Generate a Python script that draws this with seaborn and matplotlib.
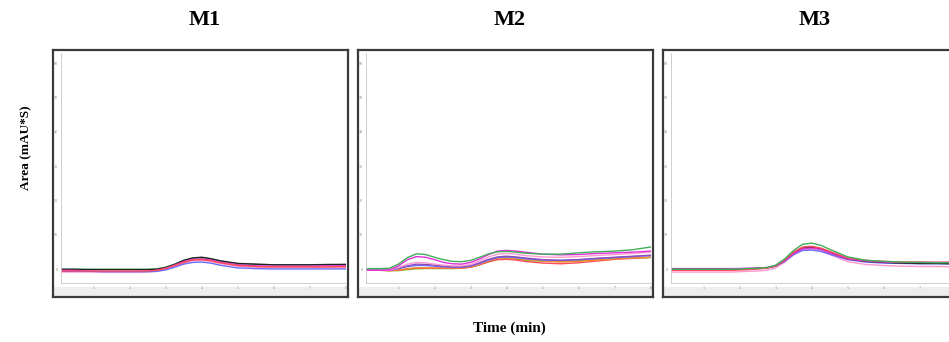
import pandas as pd
import numpy as np
import matplotlib.pyplot as plt
import seaborn as sns

sns.set_style("white")
plt.rcParams['font.family'] = ['Liberation Serif', 'DejaVu Serif']
plt.rcParams['text.color'] = 'black'

# retention time grid (min), shared by all traces
time = [0.1, 0.5, 0.75, 1.0, 1.25, 1.5, 1.75, 2.0, 2.25, 2.5, 2.75, 3.0, 3.25,
        3.5, 3.75, 4.0, 4.25, 4.5, 5.0, 5.5, 6.0, 6.5, 7.0, 7.5, 8.0]

panel_titles = ['M1', 'M2', 'M3']
x_ticks = [[1, 2, 3, 4, 5, 6, 7, 8], [1, 2, 3, 4, 5, 6, 7, 8], [1, 2, 3, 4, 5, 6, 7]]
y_ticks = [0, 10, 20, 30, 40, 50, 60]

# M1 traces
m1_green = [0, 0, 0, 0, 0, 0, 0, 0, 0, 0, 0.1, 0.6, 1.5, 2.5, 3.2, 3.4, 3.0, 2.4, 1.6, 1.4, 1.3, 1.3, 1.3, 1.3, 1.4]
m1_black = [0, 0, -0.1, -0.1, -0.1, -0.1, -0.1, -0.1, -0.1, -0.1, 0.0, 0.5, 1.4, 2.6, 3.3, 3.5, 3.1, 2.5, 1.7, 1.5, 1.3, 1.3, 1.3, 1.4, 1.4]
m1_magenta = [-0.3, -0.3, -0.5, -0.6, -0.8, -0.8, -0.8, -0.8, -0.7, -0.6, -0.3, 0.3, 1.2, 2.2, 2.9, 3.0, 2.7, 2.1, 1.3, 1.0, 0.9, 0.9, 0.9, 1.0, 1.0]
m1_pink = [-0.8, -0.8, -0.8, -0.8, -0.9, -0.9, -0.9, -0.9, -0.9, -0.8, -0.6, 0.0, 0.9, 1.9, 2.5, 2.6, 2.3, 1.7, 0.9, 0.6, 0.5, 0.5, 0.5, 0.5, 0.5]
m1_blue = [-0.6, -0.6, -0.6, -0.6, -0.7, -0.7, -0.7, -0.7, -0.7, -0.7, -0.6, -0.2, 0.6, 1.5, 2.0, 2.1, 1.8, 1.2, 0.4, 0.2, 0.1, 0.1, 0.1, 0.1, 0.1]
m1_red = [-0.5, -0.5, -0.5, -0.5, -0.5, -0.5, -0.5, -0.5, -0.5, -0.5, -0.3, 0.2, 1.1, 2.0, 2.7, 2.8, 2.5, 1.9, 1.1, 0.8, 0.7, 0.7, 0.7, 0.7, 0.8]

# M2 traces
m2_green = [0.2, 0.2, 0.3, 1.5, 3.4, 4.5, 4.3, 3.5, 2.8, 2.3, 2.2, 2.6, 3.5, 4.5, 5.1, 5.2, 5.0, 4.7, 4.4, 4.4, 4.8, 5.1, 5.3, 5.7, 6.5]
m2_magenta = [-0.3, -0.3, -0.2, 1.0, 2.8, 3.7, 3.5, 2.8, 2.0, 1.6, 1.5, 2.0, 3.0, 4.3, 5.3, 5.5, 5.3, 5.0, 4.4, 4.2, 4.3, 4.6, 4.8, 5.0, 5.3]
m2_pink = [-0.3, -0.3, -0.3, 0.5, 1.5, 2.0, 1.9, 1.5, 1.2, 1.0, 1.0, 1.4, 2.4, 3.6, 4.4, 4.6, 4.4, 4.0, 3.6, 3.5, 3.7, 4.0, 4.3, 4.6, 5.0]
m2_purple = [-0.3, -0.3, -0.3, 0.3, 1.0, 1.5, 1.4, 1.2, 0.9, 0.7, 0.7, 1.0, 1.9, 2.9, 3.6, 3.8, 3.6, 3.3, 2.8, 2.6, 2.8, 3.2, 3.5, 3.8, 4.1]
m2_blue = [-0.3, -0.3, -0.3, 0.2, 0.8, 1.1, 1.1, 0.9, 0.7, 0.6, 0.6, 0.9, 1.7, 2.7, 3.4, 3.6, 3.4, 3.1, 2.7, 2.6, 2.8, 3.1, 3.4, 3.7, 4.0]
m2_orange = [-0.3, -0.3, -0.4, -0.2, 0.2, 0.4, 0.4, 0.4, 0.4, 0.4, 0.4, 0.7, 1.5, 2.5, 3.2, 3.4, 3.2, 2.9, 2.4, 2.1, 2.3, 2.7, 3.0, 3.3, 3.5]
m2_red = [-0.3, -0.3, -0.4, -0.3, 0.1, 0.3, 0.3, 0.3, 0.3, 0.3, 0.3, 0.6, 1.3, 2.2, 2.8, 2.9, 2.7, 2.3, 1.8, 1.6, 1.9, 2.4, 2.9, 3.2, 3.5]
m2_lime = [-0.3, -0.3, -0.4, -0.4, -0.1, 0.1, 0.2, 0.2, 0.2, 0.2, 0.3, 0.6, 1.3, 2.2, 2.9, 3.1, 2.9, 2.6, 2.3, 2.3, 2.5, 2.8, 3.1, 3.3, 3.4]

# M3 traces
m3_green = [0, 0, 0, 0, 0, 0, 0, 0.1, 0.2, 0.3, 0.5, 1.2, 3.0, 5.5, 7.3, 7.6, 7.0, 5.8, 3.6, 2.6, 2.3, 2.1, 2.0, 1.9, 1.9]
m3_red = [-0.3, -0.3, -0.3, -0.3, -0.3, -0.3, -0.3, -0.2, -0.1, 0.1, 0.3, 1.0, 2.7, 5.0, 6.5, 6.7, 6.2, 5.2, 3.3, 2.6, 2.3, 2.1, 2.1, 2.0, 2.0]
m3_black = [0, 0, 0, 0, 0, 0, 0, 0, 0.1, 0.2, 0.4, 1.0, 2.6, 4.8, 6.2, 6.4, 5.9, 4.9, 3.0, 2.3, 2.0, 1.8, 1.7, 1.7, 1.6]
m3_blue = [0.2, 0.2, 0.2, 0.2, 0.2, 0.2, 0.2, 0.2, 0.2, 0.3, 0.4, 0.9, 2.3, 4.3, 5.5, 5.6, 5.2, 4.4, 2.8, 2.1, 1.8, 1.7, 1.6, 1.6, 1.5]
m3_magenta = [0.1, 0.1, 0.1, 0.1, 0.1, 0.1, 0.1, 0.2, 0.3, 0.4, 0.5, 1.0, 2.5, 4.6, 6.0, 6.2, 5.8, 4.8, 3.0, 2.4, 2.1, 2.0, 2.0, 2.0, 2.1]
m3_pink = [-0.8, -0.8, -0.8, -0.8, -0.8, -0.8, -0.8, -0.7, -0.6, -0.5, -0.3, 0.4, 2.0, 4.2, 5.7, 5.9, 5.4, 4.3, 2.2, 1.4, 1.1, 0.9, 0.8, 0.8, 0.7]

palette = {
    'green': '#3fae5a', 'black': '#222222', 'magenta': '#e030d8',
    'pink': '#ff9ad0', 'blue': '#6a6cff', 'red': '#ff4a5a',
    'purple': '#8a4cc0', 'orange': '#f08a30', 'lime': '#7ccf3a',
}

panels = [
    {'green': m1_green, 'black': m1_black, 'magenta': m1_magenta,
     'pink': m1_pink, 'blue': m1_blue, 'red': m1_red},
    {'lime': m2_lime, 'red': m2_red, 'orange': m2_orange, 'blue': m2_blue,
     'purple': m2_purple, 'pink': m2_pink, 'magenta': m2_magenta, 'green': m2_green},
    {'pink': m3_pink, 'blue': m3_blue, 'black': m3_black, 'magenta': m3_magenta,
     'red': m3_red, 'green': m3_green},
]


def to_long(traces):
    rows = []
    for name, vals in traces.items():
        for t, v in zip(time, vals):
            rows.append({'time': t, 'area': v, 'run': name})
    return pd.DataFrame(rows)


W, H = 949, 342
fig = plt.figure(figsize=(W / 100, H / 100), dpi=100)


def px_axes(x0, y0, x1, y1):
    # pixel box (top-left origin) -> figure axes
    return fig.add_axes([x0 / W, 1 - y1 / H, (x1 - x0) / W, (y1 - y0) / H])


frame_left = [53, 358, 663]
title_x = [205, 510, 815]
for i, traces in enumerate(panels):
    fl = frame_left[i]
    # screenshot frame
    fr = px_axes(fl, 50, fl + 295, 297)
    fr.set_xticks([])
    fr.set_yticks([])
    fr.set_facecolor('white')
    for s in fr.spines.values():
        s.set_color('#3a3a3a')
        s.set_linewidth(1.6)
    fr.axhspan(0, 0.04, color='#eeeeee', lw=0)
    fr.set_xlim(0, 1)
    fr.set_ylim(0, 1)

    # chromatogram plot area
    ax = px_axes(fl + 8, 53, fl + 293, 283)
    ax.patch.set_alpha(0)
    df = to_long(traces)
    sns.lineplot(data=df, x='time', y='area', hue='run', palette=palette,
                 linewidth=1.0, legend=False, ax=ax)
    ax.set_xlim(0.1, 8.0)
    ax.set_ylim(-4, 63)
    ax.set_xticks(x_ticks[i])
    ax.set_yticks(y_ticks)
    ax.tick_params(labelsize=3, colors='#888888', length=1.5, width=0.4, pad=1)
    ax.set_xlabel('')
    ax.set_ylabel('')
    for side in ['top', 'right']:
        ax.spines[side].set_visible(False)
    for side in ['left', 'bottom']:
        ax.spines[side].set_color('#c8c8c8')
        ax.spines[side].set_linewidth(0.6)

    fig.text(title_x[i] / W, 1 - 20 / H, panel_titles[i], ha='center', va='center',
             fontsize=16, fontweight='bold', color='black')

fig.text(26 / W, 1 - 148 / H, 'Area (mAU*S)', rotation=90, ha='center', va='center',
         fontsize=9.5, fontweight='bold', color='black')
fig.text(509 / W, 1 - 328 / H, 'Time (min)', ha='center', va='center',
         fontsize=11, fontweight='bold', color='black')

fig.savefig('out.png', dpi=100)
